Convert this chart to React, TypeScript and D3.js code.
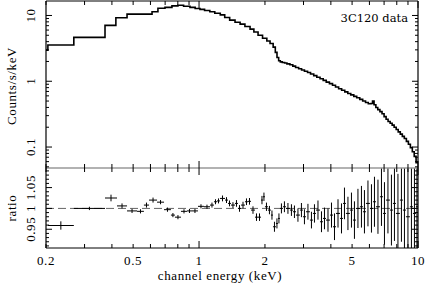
import React from "react";
import * as d3 from "d3";

const W = 436;
const H = 285;

// spectrum: bin edges (keV) and counts/s/keV per bin
const specEdges = [
  0.2, 0.204, 0.268, 0.372, 0.417, 0.469, 0.61, 0.649, 0.699, 0.752, 0.801, 0.85, 0.909, 0.96, 1.01,
  1.06, 1.12, 1.18, 1.25, 1.31, 1.38, 1.46, 1.54, 1.62, 1.71, 1.78, 1.86, 1.95, 2.04, 2.11, 2.18,
  2.23, 2.27, 2.31, 2.35, 2.4, 2.46, 2.52, 2.6, 2.68, 2.76, 2.85, 2.94, 3.03, 3.13, 3.23, 3.34,
  3.45, 3.57, 3.69, 3.81, 3.94, 4.07, 4.2, 4.34, 4.48, 4.63, 4.78, 4.93, 5.09, 5.25, 5.42, 5.59,
  5.76, 5.93, 6.1, 6.2, 6.3, 6.42, 6.55, 6.7, 6.85, 7.0, 7.15, 7.3, 7.46, 7.62, 7.78, 7.95, 8.12,
  8.3, 8.48, 8.66, 8.85, 9.04, 9.23, 9.42, 9.61, 9.8, 10.0,
];
const specRate = [
  2.97, 3.55, 4.65, 7.08, 9.25, 10.5, 11.4, 12.9, 13.3, 14.0, 14.3, 13.8, 13.3, 12.8, 12.4, 11.9,
  11.4, 10.8, 10.2, 9.3, 8.5, 7.9, 7.4, 6.8, 6.2, 5.6, 5.0, 4.5, 4.1, 3.75, 3.3, 2.75, 2.3, 2.05,
  1.97, 1.93, 1.89, 1.84, 1.78, 1.7, 1.62, 1.55, 1.48, 1.42, 1.36, 1.29, 1.22, 1.15, 1.09, 1.03,
  0.97, 0.92, 0.87, 0.82, 0.77, 0.73, 0.69, 0.65, 0.62, 0.59, 0.56, 0.53, 0.5, 0.475, 0.455, 0.46,
  0.5, 0.44, 0.4, 0.37, 0.345, 0.32, 0.29, 0.265, 0.245, 0.23, 0.215, 0.2, 0.185, 0.17, 0.157,
  0.145, 0.135, 0.122, 0.11, 0.098, 0.085, 0.072, 0.058,
];

// ratio panel: bin edges (keV), ratio and error
const ratioEdges = [
  0.204, 0.268, 0.372, 0.422, 0.469, 0.521, 0.56, 0.591, 0.643, 0.692, 0.744, 0.776, 0.827, 0.881,
  0.928, 0.989, 1.053, 1.122, 1.17, 1.208, 1.246, 1.314, 1.356, 1.399, 1.459, 1.506, 1.555, 1.621,
  1.673, 1.727, 1.801, 1.859, 1.919, 1.958, 2.0, 2.064, 2.13, 2.176, 2.245, 2.293, 2.341, 2.416,
  2.494, 2.601, 2.684, 2.771, 2.889, 2.982, 3.078, 3.21, 3.313, 3.42, 3.567, 3.681, 3.8, 3.963,
  4.09, 4.222, 4.403, 4.544, 4.687, 4.889, 5.046, 5.207, 5.431, 5.605, 5.785, 6.034, 6.228, 6.427,
  6.703, 6.918, 7.14, 7.444, 7.683, 7.93, 8.27, 8.535, 8.809, 9.187, 9.481, 9.786, 9.99,
];
const ratioVal = [
  0.959, 1.0, 1.025, 1.006, 0.994, 0.993, 1.008, 1.02, 1.015, 0.997, 0.984, 0.979, 0.993, 0.994,
  0.994, 1.005, 1.004, 1.008, 1.016, 1.018, 1.024, 1.02, 1.012, 1.008, 1.012, 1.0, 1.008, 1.016,
  1.017, 0.996, 0.979, 0.979, 1.02, 1.028, 1.004, 0.996, 0.984, 0.956, 0.964, 0.976, 1.0, 1.004,
  1.0, 0.996, 0.992, 0.984, 0.996, 0.98, 0.992, 0.972, 0.988, 0.996, 0.968, 0.976, 0.972, 0.984,
  0.956, 0.988, 0.976, 1.012, 0.988, 0.996, 0.972, 1.0, 1.004, 0.992, 1.012, 1.0, 1.016, 1.004,
  1.028, 0.988, 1.02, 0.996, 1.012, 0.988, 1.02, 0.996, 0.98, 1.004, 0.988, 1.004,
];
const ratioErr = [
  0.01, 0.004, 0.008, 0.006, 0.005, 0.005, 0.006, 0.006, 0.005, 0.005, 0.005, 0.005, 0.005, 0.005,
  0.005, 0.005, 0.005, 0.006, 0.006, 0.006, 0.007, 0.007, 0.007, 0.007, 0.008, 0.008, 0.008, 0.008,
  0.008, 0.009, 0.009, 0.009, 0.01, 0.01, 0.01, 0.01, 0.011, 0.012, 0.012, 0.012, 0.012, 0.013,
  0.013, 0.014, 0.015, 0.016, 0.017, 0.018, 0.019, 0.02, 0.022, 0.023, 0.025, 0.026, 0.028, 0.03,
  0.032, 0.034, 0.036, 0.038, 0.04, 0.042, 0.045, 0.047, 0.05, 0.052, 0.055, 0.058, 0.06, 0.065,
  0.07, 0.075, 0.08, 0.085, 0.09, 0.095, 0.1, 0.11, 0.12, 0.13, 0.14, 0.15,
];

const xTickValues = [0.2, 0.5, 1, 2, 5, 10];
const xTickLabels = ["0.2", "0.5", "1", "2", "5", "10"];
const topTickValues = [0.1, 1, 10];
const topTickLabels = ["0.1", "1", "10"];
const ratioTickValues = [0.95, 1, 1.05];
const ratioTickLabels = ["0.95", "1", "1.05"];

const L = 46, R = 418, T = 1, S = 168, B = 248;
const FONT = "'Liberation Serif', 'Times New Roman', serif";

export default function App() {
  const x = d3.scaleLog().domain([0.2, 10]).range([L, R]);
  const yTop = d3.scaleLog().domain([0.048, 16.6]).range([S, T]);
  const yRat = d3.scaleLinear().domain([0.905, 1.097]).range([B, S]);

  const stepPts: [number, number][] = specRate.map((v, i) => [specEdges[i], v]);
  stepPts.push([specEdges[specEdges.length - 1], specRate[specRate.length - 1]]);
  const specLine = d3
    .line<[number, number]>()
    .x((d) => x(d[0]))
    .y((d) => yTop(d[1]))
    .curve(d3.curveStepAfter)(stepPts);

  const xMinor = x.ticks();
  const isDecade = (v: number) => Math.abs(Math.log10(v) - Math.round(Math.log10(v))) < 1e-6;
  const topMinor = yTop.ticks();
  const ratMinor = d3.range(91, 110).map((k) => k / 100);

  const tk = { stroke: "#000", strokeWidth: 1 };
  const lines: React.ReactNode[] = [];

  // x ticks: top edge, separator (both panels), bottom edge
  xMinor.forEach((v, i) => {
    const px = x(v);
    const len = isDecade(v) ? 7 : 4;
    lines.push(<line key={`xt${i}`} x1={px} x2={px} y1={T} y2={T + len} {...tk} />);
    lines.push(<line key={`xs${i}`} x1={px} x2={px} y1={S - len} y2={S + len} {...tk} />);
    lines.push(<line key={`xb${i}`} x1={px} x2={px} y1={B} y2={B - len} {...tk} />);
  });
  topMinor.forEach((v, i) => {
    const py = yTop(v);
    const len = isDecade(v) ? 6 : 3;
    lines.push(<line key={`yl${i}`} x1={L} x2={L + len} y1={py} y2={py} {...tk} />);
    lines.push(<line key={`yr${i}`} x1={R} x2={R - len} y1={py} y2={py} {...tk} />);
  });
  ratMinor.forEach((v, i) => {
    const py = yRat(v);
    const k = Math.round(v * 100);
    const len = k % 5 === 0 ? 6 : 3;
    lines.push(<line key={`rl${i}`} x1={L} x2={L + len} y1={py} y2={py} {...tk} />);
    lines.push(<line key={`rr${i}`} x1={R} x2={R - len} y1={py} y2={py} {...tk} />);
  });

  return (
    <svg
      width={W}
      height={H}
      viewBox={`0 0 ${W} ${H}`}
      style={{ position: "absolute", left: 0, top: 0, background: "#fff" }}
    >
      <defs>
        <clipPath id="topClip">
          <rect x={L} y={T} width={R - L} height={S - T} />
        </clipPath>
        <clipPath id="ratClip">
          <rect x={L} y={S} width={R - L} height={B - S} />
        </clipPath>
      </defs>
      <rect x={0} y={0} width={W} height={H} fill="#fff" />

      {/* spectrum */}
      <path d={specLine ?? ""} fill="none" stroke="#000" strokeWidth={1.6} clipPath="url(#topClip)" />

      {/* ratio panel */}
      <line x1={L} x2={R} y1={yRat(1)} y2={yRat(1)} stroke="#666" strokeWidth={1} strokeDasharray="8,4" />
      <g clipPath="url(#ratClip)" stroke="#000" strokeWidth={1}>
        {ratioVal.map((r, i) => {
          const x0 = x(ratioEdges[i]);
          const x1 = x(ratioEdges[i + 1]);
          const xc = x(Math.sqrt(ratioEdges[i] * ratioEdges[i + 1]));
          return (
            <g key={i}>
              <line x1={x0} x2={x1} y1={yRat(r)} y2={yRat(r)} />
              <line x1={xc} x2={xc} y1={yRat(r - ratioErr[i])} y2={yRat(r + ratioErr[i])} />
            </g>
          );
        })}
      </g>

      {/* frame */}
      <line x1={L} x2={R} y1={T} y2={T} stroke="#000" strokeWidth={1} />
      <line x1={L} x2={R} y1={S} y2={S} stroke="#999" strokeWidth={1.6} />
      <line x1={L} x2={R} y1={B} y2={B} stroke="#000" strokeWidth={1} />
      <line x1={L} x2={L} y1={T} y2={B} stroke="#000" strokeWidth={1.2} />
      <line x1={R} x2={R} y1={T} y2={B} stroke="#000" strokeWidth={1.2} />
      {lines}

      {/* tick labels */}
      <g fontFamily={FONT} fontSize={13} letterSpacing={0.6} fill="#000">
        {xTickValues.map((v, i) => (
          <text key={`xl${i}`} x={x(v)} y={265} textAnchor="middle">
            {xTickLabels[i]}
          </text>
        ))}
        {topTickValues.map((v, i) => (
          <text
            key={`tl${i}`}
            transform={`translate(35,${yTop(v)}) rotate(-90)`}
            textAnchor="middle"
          >
            {topTickLabels[i]}
          </text>
        ))}
        {ratioTickValues.map((v, i) => (
          <text
            key={`rl${i}`}
            transform={`translate(35,${yRat(v)}) rotate(-90)`}
            textAnchor="middle"
          >
            {ratioTickLabels[i]}
          </text>
        ))}
        <text x={220} y={280} textAnchor="middle">
          channel energy (keV)
        </text>
        <text transform={`translate(16,86) rotate(-90)`} textAnchor="middle">
          Counts/s/keV
        </text>
        <text transform={`translate(16,208) rotate(-90)`} textAnchor="middle">
          ratio
        </text>
      </g>
      <text x={408} y={22} textAnchor="end" fontFamily="'DejaVu Serif', serif" fontSize={11.5}>
        3C120 data
      </text>
    </svg>
  );
}
